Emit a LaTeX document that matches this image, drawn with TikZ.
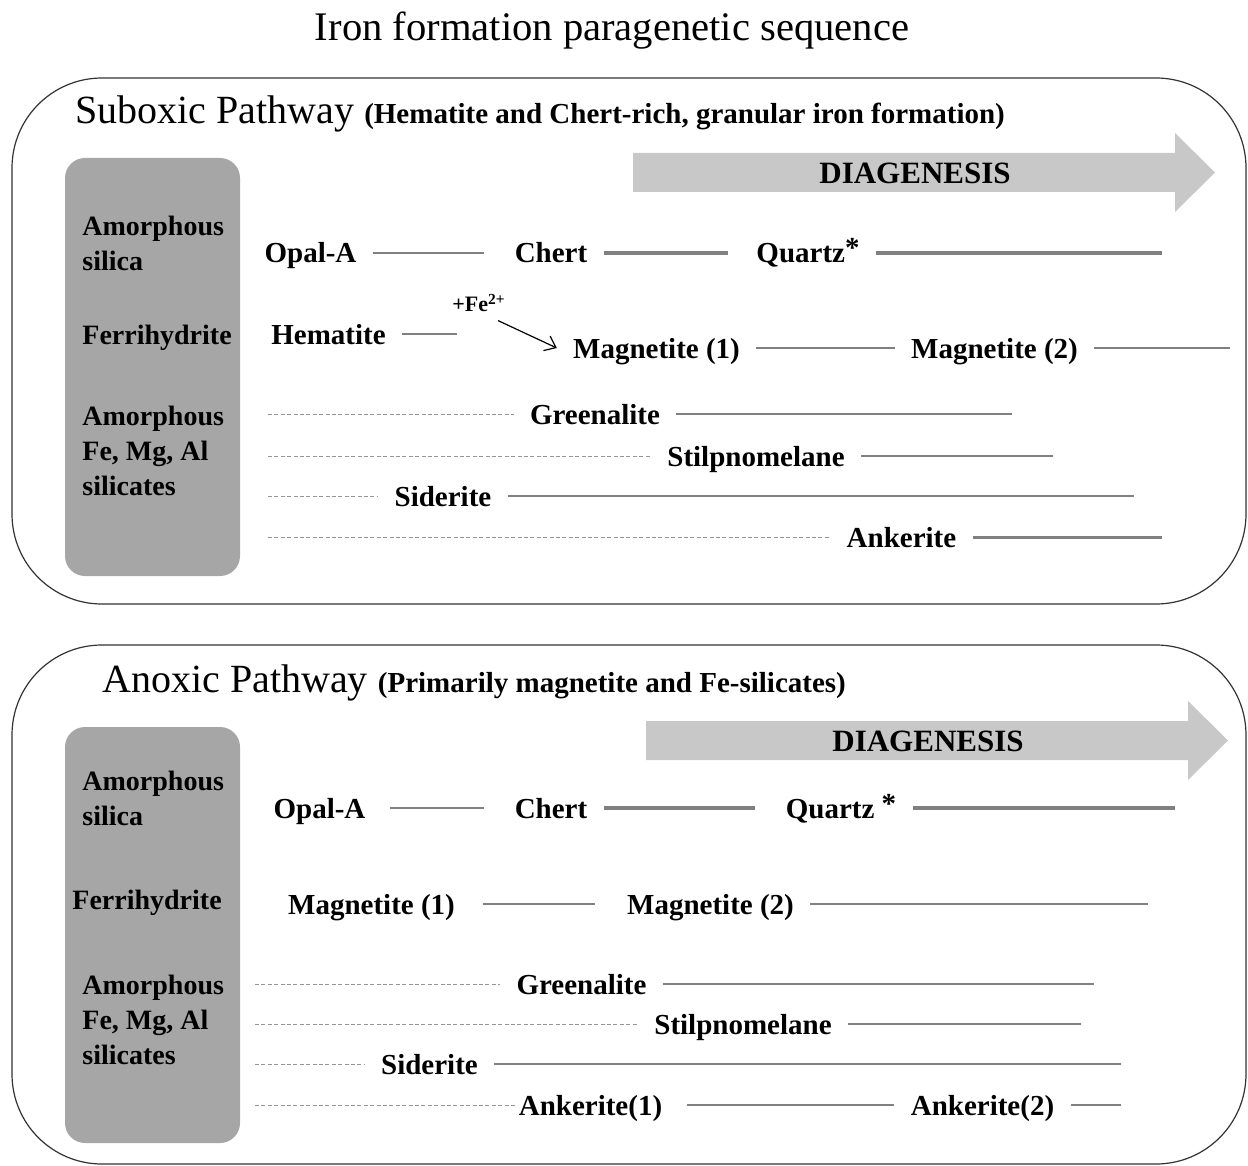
\documentclass[tikz,border=0pt]{standalone}
\usepackage{fontspec}
\setmainfont{Liberation Serif}
\usetikzlibrary{arrows.meta}

\definecolor{panelgray}{RGB}{166,166,166}
\definecolor{arrowgray}{RGB}{200,200,200}
\definecolor{linegray}{RGB}{128,128,128}
\definecolor{dashgray}{RGB}{150,150,150}

\newcommand{\qstar}{\raisebox{2.5pt}{*}}

\begin{document}
\begin{tikzpicture}[x=0.5pt, y=-0.5pt,
    mineral/.style={font=\fontsize{14.5}{17}\selectfont\bfseries, inner xsep=8pt, inner ysep=0pt, text height=12pt, text depth=2pt},
    precursor/.style={font=\fontsize{14}{17.5}\selectfont\bfseries, align=left, anchor=west, inner sep=0pt},
    pathway/.style={anchor=base west, inner sep=0pt, font=\fontsize{20}{24}\selectfont},
    link/.style={draw=linegray, line width=1pt},
    heavylink/.style={draw=linegray, line width=2pt},
    dashlink/.style={draw=dashgray, line width=0.5pt, dash pattern=on 2pt off 1.2pt},
    stage/.style={fill=panelgray, rounded corners=10pt},
    pathbox/.style={draw=black!80, line width=0.6pt, rounded corners=45pt},
    diag/.style={fill=arrowgray}]

    \useasboundingbox (0,0) rectangle (1248,1166);

    % Title
    \node[anchor=base, font=\fontsize{20.3}{24}\selectfont] (title) at (612,41) {Iron formation paragenetic sequence};

    % The two pathway frames and the grey precursor panels
    \draw[pathbox] (12,78) rectangle (1246,604);
    \draw[pathbox] (12,645) rectangle (1246,1164);
    \fill[stage] (65,158) rectangle (240,576);
    \fill[stage] (65,727) rectangle (240,1143);

    % Diagenesis arrows, one per pathway
    \foreach \dx/\dy/\nm in {0/0/diagA, 13/568/diagB} {
        \fill[diag] (633+\dx,153+\dy) -- (1175+\dx,153+\dy) -- (1175+\dx,133+\dy) -- (1215+\dx,172.5+\dy)
            -- (1175+\dx,212+\dy) -- (1175+\dx,192+\dy) -- (633+\dx,192+\dy) -- cycle;
        \node[font=\fontsize{15.5}{18}\selectfont\bfseries] (\nm) at (915+\dx,173+\dy) {DIAGENESIS};
    }

    % ---- Suboxic pathway ----
    \node[pathway] (suboxic) at (75,124) {Suboxic Pathway {\fontsize{14.5}{17}\selectfont\bfseries (Hematite and Chert-rich, granular iron formation)}};

    \node[precursor] (silA) at (82,243.5) {Amorphous\\silica};
    \node[precursor] (ferA) at (82,338) {Ferrihydrite};
    \node[precursor] (fmaA) at (82,451) {Amorphous\\Fe, Mg, Al\\silicates};

    \node[mineral] (opalA) at (310.5,253) {Opal-A};
    \node[mineral] (chertA) at (551,253) {Chert};
    \node[mineral] (quartzA) at (808,253) {Quartz\qstar};
    \coordinate (quartzAend) at (1162,253);

    \node[mineral] (hemA) at (328.5,334) {Hematite};
    \coordinate (hemAend) at (457,334);
    \node[inner sep=0pt, font=\fontsize{11}{13}\selectfont\bfseries] (feA) at (479,303) {+Fe\textsuperscript{2+}};
    \node[mineral] (magA1) at (656.5,348) {Magnetite (1)};
    \node[mineral] (magA2) at (994.5,348) {Magnetite (2)};
    \coordinate (magAend) at (1230,348);

    \node[mineral] (greenA) at (595,414) {Greenalite};
    \node[mineral] (stilpA) at (756,456) {Stilpnomelane};
    \node[mineral] (sidA) at (443,496) {Siderite};
    \node[mineral] (ankA) at (901.5,537) {Ankerite};
    \coordinate (greenAend) at (1012,414);
    \coordinate (stilpAend) at (1053,456);
    \coordinate (sidAend) at (1134,496);
    \coordinate (ankAend) at (1162,537);

    \draw[link, line width=1.3pt, shorten >=7pt] (opalA) -- (chertA);
    \draw[heavylink, shorten >=6pt] (chertA) -- (quartzA);
    \draw[heavylink] (quartzA) -- (quartzAend);
    \draw[link] (hemA) -- (hemAend);
    \draw[-{Straight Barb[length=5pt,width=8pt]}, line width=0.6pt] ([xshift=-4pt,yshift=-4pt]feA.south east) -- (magA1.west);
    \draw[link] (magA1) -- (magA2);
    \draw[link] (magA2) -- (magAend);
    \draw[link] (greenA) -- (greenAend);
    \draw[link] (stilpA) -- (stilpAend);
    \draw[link] (sidA) -- (sidAend);
    \draw[link, line width=1.5pt] (ankA) -- (ankAend);

    % amorphous precursors before each silicate / carbonate
    \foreach \nm/\y in {greenA/414, stilpA/456, sidA/496, ankA/537} {
        \coordinate (\nm start) at (268,\y);
        \draw[dashlink] (\nm start) -- (\nm.west);
    }

    % ---- Anoxic pathway ----
    \node[pathway] (anoxic) at (102,692) {Anoxic Pathway {\fontsize{14.5}{17}\selectfont\bfseries (Primarily magnetite and Fe-silicates)}};

    \node[precursor] (silB) at (82,798.5) {Amorphous\\silica};
    \node[precursor] (ferB) at (72,903) {Ferrihydrite};
    \node[precursor] (fmaB) at (82,1019.5) {Amorphous\\Fe, Mg, Al\\silicates};

    \node[mineral] (opalB) at (319.5,808) {Opal-A};
    \node[mineral] (chertB) at (551,808) {Chert};
    \node[mineral] (quartzB) at (841,808) {Quartz \qstar};
    \coordinate (quartzBend) at (1175,808);

    \node[mineral] (magB1) at (371.5,904) {Magnetite (1)};
    \node[mineral] (magB2) at (710.5,904) {Magnetite (2)};
    \coordinate (magBend) at (1148,904);

    \node[mineral] (greenB) at (581.5,984) {Greenalite};
    \node[mineral] (stilpB) at (743,1024) {Stilpnomelane};
    \node[mineral] (sidB) at (429.5,1064) {Siderite};
    \node[mineral, inner xsep=1pt] (ankB1) at (590.5,1105) {Ankerite(1)};
    \node[mineral] (ankB2) at (982.5,1105) {Ankerite(2)};
    \coordinate (greenBend) at (1094,984);
    \coordinate (stilpBend) at (1081,1024);
    \coordinate (sidBend) at (1121,1064);
    \coordinate (ankBend) at (1121,1105);

    \draw[link, line width=1.3pt, shorten <=4pt, shorten >=7pt] (opalB) -- (chertB);
    \draw[heavylink, shorten >=7pt] (chertB) -- (quartzB);
    \draw[heavylink] (quartzB) -- (quartzBend);
    \draw[link, shorten <=6pt, shorten >=8pt] (magB1) -- (magB2);
    \draw[link] (magB2) -- (magBend);
    \draw[link] (greenB) -- (greenBend);
    \draw[link] (stilpB) -- (stilpBend);
    \draw[link] (sidB) -- (sidBend);
    \draw[link] ([xshift=11pt]ankB1.east) -- (ankB2);
    \draw[link] (ankB2) -- (ankBend);

    \foreach \nm/\y in {greenB/984, stilpB/1024, sidB/1064, ankB1/1105} {
        \coordinate (\nm start) at (255,\y);
        \draw[dashlink] (\nm start) -- (\nm.west);
    }

\end{tikzpicture}
\end{document}
